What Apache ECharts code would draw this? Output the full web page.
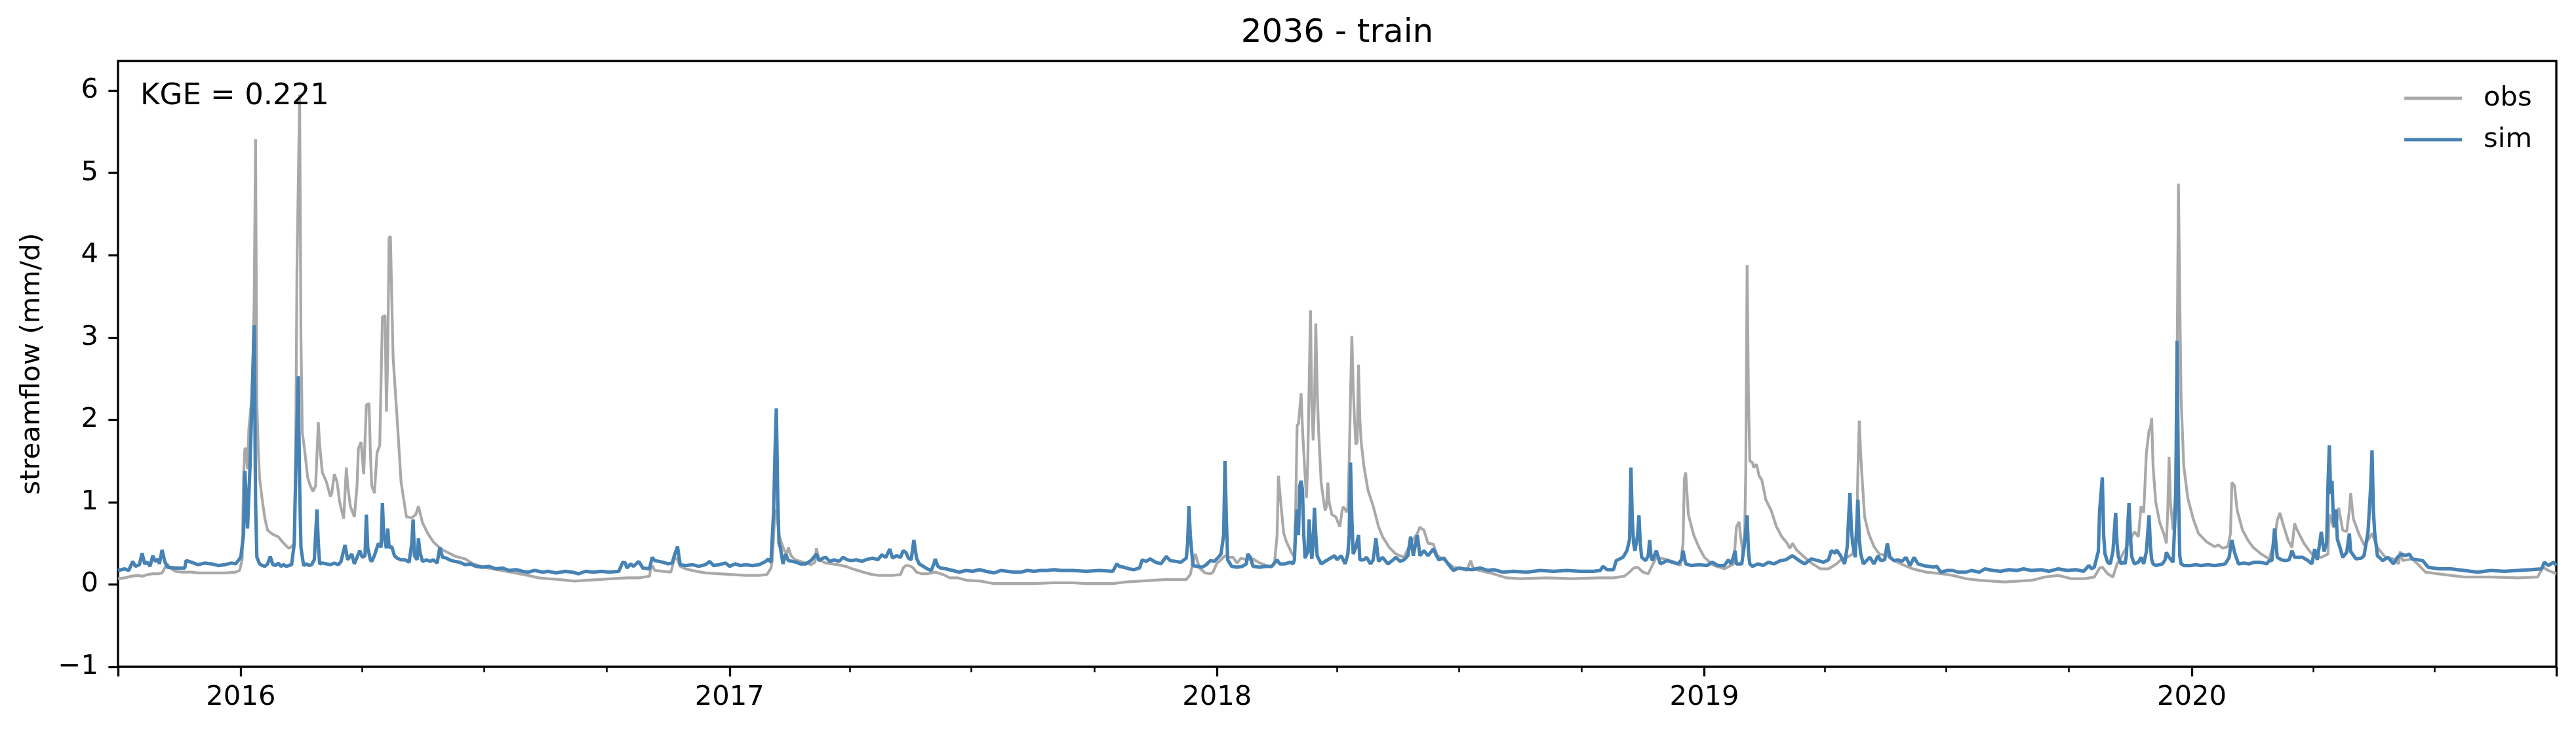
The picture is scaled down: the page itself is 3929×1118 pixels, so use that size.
<!DOCTYPE html>
<html>
<head>
<meta charset="utf-8">
<title>2036 - train</title>
<script src="https://cdn.jsdelivr.net/npm/echarts@6/dist/echarts.min.js"></script>
<style>
    html, body { margin: 0; padding: 0; background: #fff; }
    #chart { width: 3929px; height: 1118px; }
</style>
</head>
<body>
<div id="chart"></div>
<script>
// daily streamflow (mm/d)
// each point is [days since startDate, value]
const startDate = '2015-10-01';
const lastDay = 1826;

const obsPoints = [
    [0,0.07],[5,0.08],[10,0.10],[15,0.11],[18,0.10],[22,0.12],[26,0.13],[30,0.13],[33,0.14],[35,0.20],[37,0.25],[39,0.20],
    [43,0.16],[48,0.15],[55,0.15],[60,0.14],[70,0.14],[80,0.14],[88,0.15],[91,0.17],[93,0.30],[94,1.30],[95,1.65],[96,1.65],
    [97,1.40],[98,1.90],[100,2.22],[101,2.60],[102,3.50],[103,5.41],[104,2.20],[105,1.65],[106,1.30],[108,1.03],[110,0.80],
    [112,0.66],[115,0.62],[117,0.60],[120,0.58],[123,0.52],[126,0.47],[128,0.44],[130,0.46],[132,0.50],[133,1.50],[134,3.80],
    [136,5.95],[137,3.00],[138,1.85],[140,1.60],[142,1.30],[144,1.20],[146,1.13],[148,1.20],[150,1.97],[151,1.70],[153,1.36],
    [156,1.25],[159,1.07],[160,1.10],[162,1.34],[164,1.25],[166,1.00],[169,0.80],[171,1.42],[172,1.20],[174,0.95],[177,0.82],
    [179,1.20],[180,1.65],[182,1.73],[184,1.34],[186,2.18],[188,2.20],[189,1.60],[190,1.20],[192,1.11],[194,1.60],[196,1.69],
    [198,3.25],[200,3.27],[201,2.10],[202,2.80],[203,4.21],[204,4.23],[206,2.76],[209,2.02],[212,1.24],[216,0.82],[220,0.81],
    [223,0.85],[225,0.95],[228,0.75],[232,0.62],[236,0.52],[242,0.43],[248,0.38],[253,0.34],[260,0.31],[266,0.25],[274,0.21],
    [284,0.18],[294,0.15],[307,0.11],[315,0.08],[322,0.07],[330,0.06],[342,0.04],[350,0.05],[361,0.06],[370,0.07],[381,0.08],
    [390,0.08],[398,0.10],[399,0.20],[400,0.23],[402,0.17],[408,0.16],[414,0.15],[417,0.33],[419,0.30],[421,0.22],[425,0.19],
    [430,0.17],[440,0.14],[450,0.13],[460,0.12],[470,0.11],[480,0.11],[486,0.12],[489,0.20],[490,0.30],[491,0.60],[492,0.90],
    [493,0.90],[494,0.75],[495,0.60],[497,0.50],[499,0.41],[501,0.38],[502,0.45],[504,0.35],[507,0.30],[511,0.28],[515,0.26],
    [519,0.24],[522,0.27],[523,0.44],[525,0.30],[530,0.26],[535,0.25],[539,0.24],[545,0.22],[550,0.19],[558,0.15],[565,0.12],
    [570,0.11],[580,0.11],[586,0.12],[588,0.20],[590,0.23],[592,0.23],[595,0.21],[598,0.15],[602,0.13],[606,0.13],[612,0.15],
    [618,0.12],[623,0.08],[629,0.08],[636,0.05],[646,0.04],[656,0.01],[666,0.01],[686,0.01],[700,0.02],[715,0.02],[725,0.01],
    [745,0.01],[755,0.03],[765,0.04],[785,0.06],[800,0.06],[803,0.12],[805,0.27],[807,0.37],[808,0.30],[810,0.20],[814,0.14],
    [818,0.13],[820,0.15],[823,0.26],[826,0.30],[829,0.35],[832,0.33],[835,0.33],[838,0.26],[841,0.32],[845,0.30],[850,0.31],
    [855,0.26],[860,0.23],[863,0.21],[866,0.25],[868,0.60],[869,1.32],[871,0.95],[873,0.62],[875,0.52],[877,0.45],[879,0.38],
    [881,0.33],[882,1.00],[883,1.93],[884,1.95],[886,2.32],[887,1.90],[888,1.60],[890,1.05],[891,1.50],[893,3.33],[894,2.20],
    [895,1.75],[896,2.20],[897,3.17],[898,2.40],[899,1.90],[901,1.24],[903,1.00],[904,0.90],[905,0.95],[906,1.24],[907,1.00],
    [909,0.85],[912,0.82],[915,0.70],[917,0.93],[918,0.94],[920,0.88],[921,0.93],[922,1.50],[923,2.30],[924,3.02],[925,2.40],
    [926,2.00],[927,1.70],[928,1.73],[929,2.67],[930,2.00],[931,1.73],[933,1.44],[936,1.15],[940,0.95],[944,0.70],[947,0.58],
    [952,0.45],[957,0.37],[963,0.33],[968,0.50],[973,0.62],[975,0.70],[976,0.68],[978,0.66],[981,0.50],[985,0.49],[988,0.35],
    [994,0.29],[1000,0.21],[1006,0.19],[1010,0.17],[1013,0.29],[1015,0.19],[1022,0.16],[1030,0.13],[1040,0.08],[1050,0.07],
    [1070,0.08],[1089,0.07],[1109,0.08],[1120,0.08],[1128,0.10],[1132,0.15],[1135,0.20],[1138,0.21],[1142,0.15],[1146,0.13],
    [1148,0.20],[1152,0.33],[1158,0.31],[1166,0.27],[1170,0.23],[1172,0.50],[1173,1.28],[1174,1.36],[1176,0.85],[1180,0.60],
    [1184,0.45],[1188,0.33],[1195,0.23],[1203,0.19],[1210,0.25],[1212,0.70],[1214,0.76],[1215,0.60],[1217,0.37],[1218,0.45],
    [1219,1.40],[1220,3.88],[1221,2.30],[1222,1.50],[1224,1.48],[1225,1.42],[1227,1.46],[1229,1.32],[1231,1.27],[1234,1.03],
    [1238,0.90],[1242,0.70],[1246,0.58],[1250,0.50],[1252,0.44],[1254,0.50],[1257,0.42],[1263,0.33],[1269,0.25],[1275,0.19],
    [1281,0.19],[1287,0.25],[1291,0.31],[1295,0.33],[1299,0.37],[1302,0.62],[1303,1.40],[1304,1.99],[1305,1.60],[1306,1.32],
    [1308,0.82],[1311,0.62],[1315,0.46],[1319,0.37],[1325,0.35],[1330,0.29],[1338,0.23],[1344,0.19],[1354,0.15],[1366,0.13],
    [1374,0.11],[1384,0.07],[1394,0.05],[1413,0.03],[1433,0.05],[1443,0.09],[1453,0.11],[1463,0.07],[1473,0.07],[1480,0.09],
    [1484,0.20],[1486,0.21],[1490,0.13],[1494,0.09],[1497,0.25],[1500,0.33],[1504,0.45],[1510,0.64],[1513,0.58],[1515,0.95],
    [1517,0.87],[1519,1.60],[1521,1.87],[1522,1.90],[1523,2.02],[1524,1.44],[1526,1.00],[1529,0.75],[1532,0.62],[1534,0.50],
    [1535,0.90],[1536,1.55],[1537,1.00],[1539,0.66],[1541,1.20],[1542,2.67],[1543,4.87],[1544,3.50],[1545,2.26],[1547,1.44],
    [1550,1.05],[1554,0.80],[1558,0.62],[1564,0.52],[1570,0.46],[1573,0.48],[1576,0.44],[1580,0.46],[1582,0.62],[1583,1.24],
    [1585,1.20],[1587,0.90],[1591,0.66],[1595,0.54],[1599,0.45],[1605,0.37],[1611,0.31],[1615,0.54],[1617,0.78],[1619,0.87],
    [1622,0.70],[1625,0.54],[1628,0.45],[1630,0.74],[1632,0.66],[1637,0.50],[1641,0.41],[1645,0.33],[1650,0.33],[1655,0.37],
    [1656,0.85],[1659,0.70],[1661,0.70],[1663,0.93],[1666,0.66],[1669,0.64],[1671,0.90],[1672,1.11],[1674,0.80],[1678,0.62],
    [1682,0.48],[1685,0.54],[1688,0.62],[1692,0.45],[1698,0.33],[1704,0.31],[1708,0.25],[1709,0.40],[1711,0.29],[1718,0.31],
    [1722,0.25],[1728,0.15],[1737,0.13],[1747,0.11],[1757,0.09],[1767,0.09],[1777,0.09],[1797,0.08],[1812,0.09],[1816,0.21],
    [1820,0.17],[1826,0.13]
];

const simPoints = [
    [0,0.17],[5,0.19],[8,0.17],[11,0.28],[13,0.22],[16,0.24],[18,0.38],[20,0.25],[22,0.27],[24,0.22],[26,0.35],[28,0.28],
    [30,0.31],[31,0.25],[33,0.42],[35,0.28],[37,0.21],[43,0.20],[50,0.20],[51,0.29],[55,0.27],[60,0.24],[65,0.26],[70,0.25],
    [75,0.23],[80,0.24],[85,0.26],[88,0.25],[91,0.31],[92,0.34],[94,0.60],[95,1.38],[97,0.68],[99,1.50],[101,2.60],[102,3.15],
    [103,1.00],[104,0.33],[106,0.25],[108,0.23],[110,0.22],[112,0.25],[114,0.34],[116,0.24],[118,0.23],[120,0.26],[122,0.22],
    [124,0.24],[126,0.22],[128,0.23],[130,0.24],[132,0.50],[133,1.30],[135,2.53],[136,1.20],[137,0.45],[139,0.23],[141,0.25],
    [143,0.23],[145,0.24],[147,0.30],[149,0.91],[150,0.50],[151,0.25],[153,0.26],[156,0.25],[159,0.24],[162,0.26],[165,0.24],
    [167,0.28],[170,0.48],[172,0.30],[175,0.37],[177,0.25],[179,0.33],[181,0.41],[183,0.33],[185,0.35],[186,0.85],[187,0.45],
    [189,0.30],[190,0.28],[192,0.35],[195,0.50],[197,0.45],[198,0.99],[199,0.60],[201,0.44],[202,0.68],[203,0.45],[205,0.46],
    [207,0.35],[209,0.32],[212,0.30],[215,0.30],[218,0.27],[220,0.50],[221,0.79],[222,0.35],[224,0.30],[225,0.56],[226,0.40],
    [228,0.28],[231,0.30],[234,0.28],[236,0.30],[239,0.26],[241,0.45],[243,0.33],[246,0.32],[248,0.30],[252,0.28],[256,0.27],
    [260,0.24],[264,0.25],[268,0.22],[273,0.21],[278,0.22],[283,0.19],[288,0.20],[293,0.17],[298,0.18],[303,0.16],[307,0.15],
    [312,0.17],[318,0.15],[322,0.16],[328,0.14],[335,0.16],[340,0.15],[345,0.13],[350,0.16],[356,0.15],[362,0.16],[368,0.15],
    [375,0.16],[378,0.27],[380,0.26],[381,0.20],[384,0.25],[386,0.22],[390,0.28],[393,0.20],[398,0.19],[400,0.33],[402,0.29],
    [405,0.28],[408,0.27],[412,0.25],[415,0.26],[417,0.37],[419,0.46],[421,0.24],[425,0.23],[430,0.24],[435,0.22],[440,0.24],
    [443,0.28],[446,0.23],[450,0.24],[455,0.26],[458,0.22],[462,0.25],[466,0.23],[470,0.24],[475,0.23],[480,0.24],[485,0.28],
    [487,0.31],[489,0.27],[491,0.90],[492,1.60],[493,2.14],[494,1.10],[495,0.50],[496,0.45],[498,0.25],[500,0.37],[502,0.29],
    [505,0.28],[508,0.27],[511,0.25],[515,0.25],[519,0.29],[523,0.37],[525,0.29],[528,0.32],[530,0.33],[533,0.28],[536,0.30],
    [540,0.28],[543,0.33],[546,0.30],[549,0.29],[553,0.30],[557,0.28],[560,0.30],[565,0.32],[569,0.30],[572,0.36],[575,0.33],
    [578,0.43],[580,0.32],[583,0.35],[586,0.33],[588,0.41],[590,0.39],[592,0.32],[594,0.30],[596,0.54],[598,0.32],[600,0.25],
    [603,0.22],[606,0.19],[609,0.17],[611,0.25],[612,0.31],[614,0.22],[616,0.20],[620,0.19],[625,0.17],[630,0.15],[635,0.17],
    [640,0.16],[645,0.18],[650,0.16],[656,0.14],[661,0.17],[666,0.16],[671,0.15],[676,0.15],[681,0.17],[686,0.16],[691,0.17],
    [696,0.17],[701,0.18],[706,0.17],[715,0.17],[725,0.16],[735,0.17],[745,0.16],[748,0.25],[750,0.22],[753,0.21],[757,0.19],
    [761,0.18],[765,0.20],[767,0.30],[770,0.28],[773,0.31],[777,0.27],[781,0.25],[785,0.34],[788,0.29],[792,0.28],[796,0.27],
    [800,0.32],[801,0.50],[802,0.95],[803,0.60],[805,0.23],[808,0.22],[812,0.21],[815,0.24],[818,0.29],[821,0.28],[824,0.33],
    [826,0.37],[828,0.60],[829,1.50],[830,0.80],[831,0.30],[834,0.22],[838,0.21],[842,0.22],[845,0.25],[846,0.37],[848,0.33],
    [850,0.22],[855,0.21],[860,0.22],[864,0.22],[868,0.30],[870,0.25],[874,0.25],[878,0.27],[880,0.25],[881,0.30],[882,0.70],
    [883,0.91],[884,0.60],[885,1.20],[886,1.26],[887,1.15],[888,0.60],[889,0.32],[891,0.40],[892,0.79],[893,0.50],[894,0.31],
    [895,0.50],[896,0.93],[897,0.60],[898,0.35],[901,0.25],[904,0.28],[908,0.32],[911,0.35],[913,0.30],[916,0.35],[919,0.25],
    [921,0.37],[922,0.60],[923,1.48],[924,0.80],[925,0.37],[927,0.45],[929,0.60],[930,0.30],[933,0.30],[935,0.33],[938,0.25],
    [940,0.30],[942,0.56],[944,0.28],[947,0.33],[951,0.25],[955,0.30],[957,0.33],[960,0.28],[963,0.30],[966,0.35],[968,0.58],
    [970,0.35],[973,0.60],[975,0.35],[978,0.41],[981,0.35],[985,0.43],[989,0.30],[993,0.32],[996,0.25],[1000,0.17],[1004,0.20],
    [1008,0.19],[1014,0.18],[1020,0.20],[1026,0.17],[1030,0.18],[1037,0.15],[1045,0.16],[1055,0.15],[1065,0.17],[1075,0.16],
    [1085,0.17],[1095,0.16],[1105,0.16],[1110,0.17],[1112,0.22],[1115,0.18],[1120,0.18],[1122,0.29],[1127,0.33],[1130,0.41],
    [1132,0.55],[1133,1.42],[1134,0.80],[1135,0.50],[1136,0.41],[1138,0.60],[1139,0.84],[1140,0.50],[1141,0.33],[1144,0.29],
    [1146,0.35],[1147,0.54],[1148,0.35],[1149,0.29],[1152,0.41],[1155,0.25],[1160,0.29],[1164,0.27],[1168,0.25],[1171,0.30],
    [1172,0.41],[1174,0.25],[1178,0.23],[1184,0.24],[1190,0.23],[1194,0.27],[1198,0.23],[1203,0.23],[1206,0.30],[1208,0.25],
    [1210,0.35],[1211,0.41],[1212,0.25],[1216,0.25],[1218,0.50],[1220,0.84],[1221,0.40],[1222,0.25],[1224,0.22],[1228,0.25],
    [1232,0.23],[1236,0.27],[1240,0.25],[1245,0.29],[1249,0.30],[1254,0.35],[1259,0.29],[1263,0.25],[1268,0.31],[1273,0.29],
    [1277,0.27],[1281,0.30],[1283,0.41],[1286,0.38],[1287,0.42],[1290,0.35],[1293,0.25],[1295,0.46],[1296,0.80],[1297,1.11],
    [1298,0.70],[1299,0.50],[1301,0.33],[1302,0.70],[1303,1.03],[1304,0.55],[1305,0.38],[1307,0.25],[1310,0.30],[1312,0.33],
    [1315,0.25],[1318,0.35],[1320,0.29],[1323,0.30],[1325,0.50],[1327,0.33],[1330,0.29],[1333,0.30],[1336,0.28],[1339,0.33],
    [1342,0.23],[1345,0.33],[1348,0.25],[1352,0.23],[1356,0.22],[1360,0.21],[1362,0.22],[1365,0.15],[1370,0.17],[1374,0.17],
    [1378,0.15],[1384,0.15],[1388,0.17],[1394,0.15],[1398,0.19],[1404,0.17],[1410,0.16],[1416,0.18],[1422,0.17],[1427,0.19],
    [1433,0.17],[1440,0.18],[1446,0.16],[1453,0.19],[1460,0.17],[1466,0.18],[1472,0.16],[1476,0.23],[1478,0.19],[1480,0.21],
    [1483,0.40],[1484,0.90],[1486,1.30],[1487,0.60],[1488,0.37],[1490,0.27],[1492,0.25],[1494,0.41],[1495,0.65],[1496,0.87],
    [1497,0.50],[1498,0.34],[1500,0.25],[1502,0.27],[1503,0.25],[1504,0.35],[1505,0.70],[1506,0.99],[1507,0.60],[1508,0.34],
    [1510,0.25],[1513,0.27],[1515,0.33],[1517,0.25],[1519,0.40],[1521,0.84],[1522,0.47],[1523,0.30],[1524,0.25],[1526,0.23],
    [1529,0.24],[1531,0.25],[1533,0.30],[1534,0.39],[1536,0.33],[1539,0.27],[1541,1.03],[1542,2.96],[1543,1.20],[1544,0.35],
    [1545,0.25],[1547,0.23],[1552,0.23],[1556,0.24],[1560,0.23],[1565,0.24],[1570,0.23],[1575,0.24],[1578,0.25],[1581,0.33],
    [1582,0.45],[1583,0.54],[1585,0.39],[1588,0.25],[1592,0.26],[1596,0.25],[1600,0.27],[1604,0.27],[1607,0.26],[1609,0.25],
    [1611,0.29],[1613,0.29],[1615,0.68],[1617,0.33],[1620,0.30],[1623,0.29],[1626,0.30],[1628,0.41],[1630,0.33],[1632,0.33],
    [1636,0.33],[1640,0.29],[1643,0.25],[1645,0.43],[1647,0.30],[1650,0.64],[1652,0.40],[1654,0.50],[1655,1.20],[1656,1.69],
    [1657,1.10],[1658,1.26],[1659,0.80],[1660,0.70],[1661,0.91],[1662,0.55],[1664,0.45],[1666,0.33],[1669,0.39],[1671,0.62],
    [1672,0.40],[1676,0.31],[1680,0.32],[1682,0.35],[1685,0.64],[1687,1.20],[1688,1.63],[1689,0.90],[1690,0.62],[1692,0.35],
    [1696,0.29],[1700,0.33],[1704,0.25],[1707,0.33],[1710,0.37],[1713,0.35],[1716,0.37],[1718,0.31],[1722,0.30],[1726,0.29],
    [1730,0.21],[1738,0.19],[1747,0.19],[1757,0.17],[1767,0.15],[1777,0.17],[1787,0.16],[1797,0.17],[1807,0.18],[1815,0.19],
    [1817,0.27],[1820,0.23],[1824,0.27],[1826,0.23]
];

const yearTicks = ['2016-01-01', '2017-01-01', '2018-01-01', '2019-01-01', '2020-01-01'];
const quarterTicks = [
    '2016-04-01', '2016-07-01', '2016-10-01',
    '2017-04-01', '2017-07-01', '2017-10-01',
    '2018-04-01', '2018-07-01', '2018-10-01',
    '2019-04-01', '2019-07-01', '2019-10-01',
    '2020-04-01', '2020-07-01'
];
const yTicks = [-1, 0, 1, 2, 3, 4, 5, 6];

const titleText = '2036 - train';
const kgeText = 'KGE = 0.221';
const yName = 'streamflow (mm/d)';

const DAY = 86400000;
const font = 'DejaVu Sans';
const toStamp = s => Date.parse(s + 'T00:00:00Z');
const t0 = toStamp(startDate);
// x axis runs in days since startDate
const toDay = s => Math.round((toStamp(s) - t0) / DAY);
const dayToYear = d => new Date(t0 + d * DAY).getUTCFullYear();

// axes box, in pixels
const plot = { left: 180, right: 30, top: 93, bottom: 101 };
const plotCenterX = plot.left + (3929 - plot.left - plot.right) / 2;
const plotCenterY = plot.top + (1118 - plot.top - plot.bottom) / 2;

const majorDays = yearTicks.map(toDay);
const minorDays = quarterTicks.map(toDay);

const chart = echarts.init(document.getElementById('chart'), null, { renderer: 'canvas' });

chart.setOption({
    animation: false,
    backgroundColor: '#fff',
    textStyle: { fontFamily: font },
    grid: {
        left: plot.left,
        right: plot.right,
        top: plot.top,
        bottom: plot.bottom,
        show: true,
        borderColor: '#000',
        borderWidth: 3.3,
        containLabel: false
    },
    legend: {
        data: [
            { name: 'obs', icon: 'rect' },
            { name: 'sim', icon: 'rect' }
        ],
        orient: 'vertical',
        right: 67,
        top: 129,
        align: 'left',
        padding: 0,
        itemWidth: 88,
        itemHeight: 5,
        itemGap: 21,
        selectedMode: false,
        textStyle: {
            fontFamily: font,
            fontSize: 41.7,
            color: '#000',
            lineHeight: 42,
            padding: [0, 0, 0, 28]
        }
    },
    graphic: [
        {
            type: 'text',
            z: 100,
            x: plotCenterX,
            y: 51,
            style: {
                text: titleText,
                fontFamily: font,
                fontSize: 50,
                fill: '#000',
                align: 'center',
                verticalAlign: 'middle'
            }
        },
        {
            type: 'text',
            z: 100,
            x: 214,
            y: 147,
            style: {
                text: kgeText,
                fontFamily: font,
                fontSize: 45,
                fill: '#000',
                align: 'left',
                verticalAlign: 'middle'
            }
        },
        {
            type: 'text',
            z: 100,
            x: 49,
            y: plotCenterY,
            rotation: Math.PI / 2,
            style: {
                text: yName,
                fontFamily: font,
                fontSize: 41.7,
                fill: '#000',
                align: 'center',
                verticalAlign: 'middle'
            }
        }
    ],
    xAxis: [
        {
            type: 'value',
            position: 'bottom',
            min: 0,
            max: lastDay,
            axisLine: { show: false, onZero: false },
            splitLine: { show: false },
            axisTick: {
                show: true,
                length: 14.6,
                lineStyle: { color: '#000', width: 3.3 },
                customValues: [0].concat(majorDays, [lastDay])
            },
            axisLabel: {
                customValues: majorDays,
                formatter: v => String(dayToYear(v)),
                margin: 26,
                fontFamily: font,
                fontSize: 41.7,
                color: '#000'
            }
        },
        {
            // quarterly minor ticks
            type: 'value',
            position: 'bottom',
            min: 0,
            max: lastDay,
            axisLine: { show: false, onZero: false },
            splitLine: { show: false },
            axisLabel: { show: false },
            axisTick: {
                show: true,
                length: 8.3,
                lineStyle: { color: '#000', width: 2.5 },
                customValues: minorDays
            }
        }
    ],
    yAxis: {
        type: 'value',
        position: 'left',
        min: -1,
        max: 6.36,
        axisLine: { show: false, onZero: false },
        splitLine: { show: false },
        axisTick: {
            show: true,
            length: 14.6,
            lineStyle: { color: '#000', width: 3.3 },
            customValues: yTicks
        },
        axisLabel: {
            customValues: yTicks,
            formatter: v => (v < 0 ? '\u2212' + Math.abs(v) : String(v)),
            margin: 30,
            padding: [8, 0, 0, 0],
            fontFamily: font,
            fontSize: 41.7,
            color: '#000'
        }
    },
    series: [
        {
            name: 'obs',
            type: 'line',
            xAxisIndex: 0,
            symbol: 'none',
            showSymbol: false,
            color: '#a9a9a9',
            lineStyle: { color: '#a9a9a9', width: 4.2 },
            data: obsPoints
        },
        {
            name: 'sim',
            type: 'line',
            xAxisIndex: 0,
            symbol: 'none',
            showSymbol: false,
            color: '#4682b4',
            lineStyle: { color: '#4682b4', width: 5.2 },
            data: simPoints
        }
    ]
});
</script>
</body>
</html>
